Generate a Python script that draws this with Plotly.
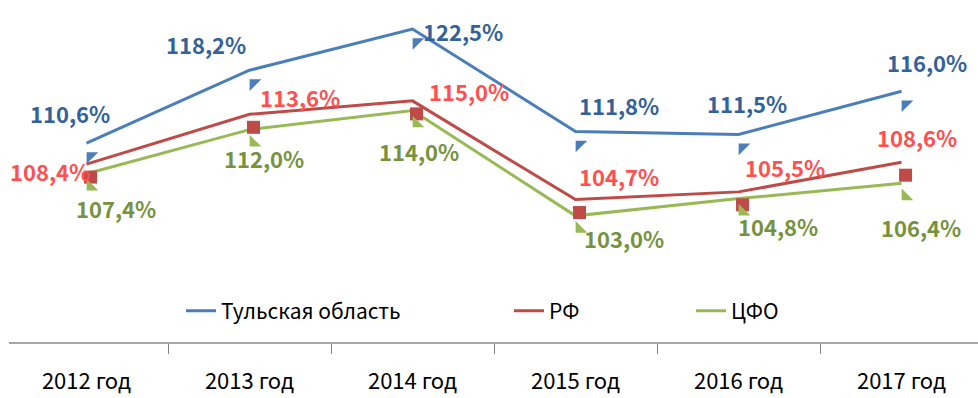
import plotly.graph_objects as go

# Categories and series values (percent, previous year = 100)
years = ["2012 год", "2013 год", "2014 год", "2015 год", "2016 год", "2017 год"]
tula = [110.6, 118.2, 122.5, 111.8, 111.5, 116.0]
rf = [108.4, 113.6, 115.0, 104.7, 105.5, 108.6]
cfo = [107.4, 112.0, 114.0, 103.0, 104.8, 106.4]

series_names = ["Тульская область", "РФ", "ЦФО"]

# Styling
FONT = "Noto Sans CJK SC, Noto Sans, sans-serif"
line_colors = ["#4A7EBB", "#BE4B48", "#98B954"]
label_colors = ["#33619A", "#FF4F4F", "#76923C"]
marker_symbols = ["triangle-nw", "square", "triangle-sw"]

# Label offsets (pixels) from each point
label_shifts = [
    [(-17, 30), (-44, 26), (50, -2), (43, 27), (8, 31), (25, 29)],
    [(-37, -7), (50, 17), (56, 10), (43, 24), (46, 25), (15, 25)],
    [(29, -34), (14, -28), (6, -41), (48, -22), (39, -27), (19, -44)],
]

def fmt(v):
    return f"{v:.1f}".replace(".", ",") + "%"

fig = go.Figure()
all_series = [tula, rf, cfo]
legend_ids = ["legend", "legend2", "legend3"]

for i, vals in enumerate(all_series):
    fig.add_trace(go.Scatter(
        x=years, y=vals, mode="lines", name=series_names[i],
        line=dict(color=line_colors[i], width=3),
        legend=legend_ids[i], showlegend=True,
        hoverinfo="skip",
    ))

# Markers on a slightly shifted overlay axis pair
for i, vals in enumerate(all_series):
    fig.add_trace(go.Scatter(
        x=years, y=vals, mode="markers", xaxis="x2", yaxis="y2",
        marker=dict(symbol=marker_symbols[i], size=13, color=line_colors[i],
                    line=dict(width=0)),
        showlegend=False, hoverinfo="skip",
    ))

annotations = []
for i, vals in enumerate(all_series):
    for j, v in enumerate(vals):
        dx, dy = label_shifts[i][j]
        annotations.append(dict(
            x=years[j], y=v, xref="x", yref="y", text=fmt(v), showarrow=False,
            xshift=dx, yshift=dy,
            font=dict(family=FONT, size=22, color=label_colors[i], weight="bold"),
        ))

x_range = [-0.4755, 5.469]
y_range = [89.83, 125.53]
mx, my = 4 / 163, 13 / 9.58

fig.update_layout(
    width=978, height=398,
    margin=dict(l=9, r=0, t=0, b=56),
    paper_bgcolor="white", plot_bgcolor="white",
    font=dict(family=FONT, size=22, color="#000000"),
    xaxis=dict(
        type="category", range=x_range, showgrid=False, zeroline=False,
        showline=True, linecolor="#A6A6A6", linewidth=1.5,
        ticks="outside", ticklen=10, tickcolor="#808080", tickwidth=1,
        tickson="boundaries", tickfont=dict(family=FONT, size=22, color="#000000"),
        ticklabelstandoff=19, fixedrange=True,
    ),
    yaxis=dict(range=y_range, visible=False, showgrid=False, zeroline=False, fixedrange=True),
    xaxis2=dict(type="category", overlaying="x", range=[x_range[0] - mx, x_range[1] - mx],
                visible=False, showgrid=False, zeroline=False),
    yaxis2=dict(overlaying="y", range=[y_range[0] + my, y_range[1] + my],
                visible=False, showgrid=False, zeroline=False),
    annotations=annotations,
    showlegend=True,
)

legend_common = dict(orientation="h", xref="paper", yref="paper", yanchor="middle",
                     bgcolor="rgba(0,0,0,0)", font=dict(family=FONT, size=21, color="#000000"),
                     itemwidth=30)
fig.update_layout(
    legend=dict(x=(181 - 9) / 969, y=(342 - 311) / 342, **legend_common),
    legend2=dict(x=(509 - 9) / 969, y=(342 - 311) / 342, **legend_common),
    legend3=dict(x=(691 - 9) / 969, y=(342 - 311) / 342, **legend_common),
)

fig.write_html("out.html")
